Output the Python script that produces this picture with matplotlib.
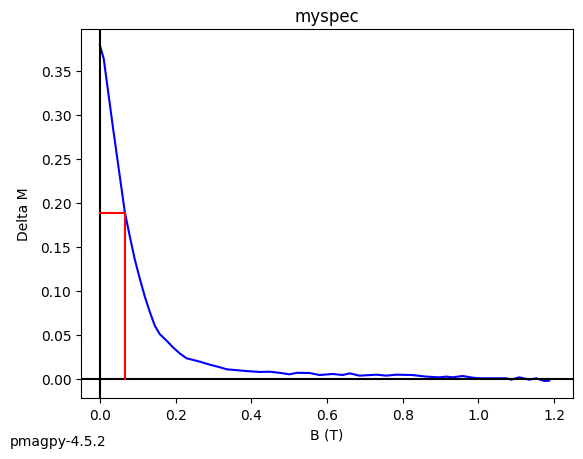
import matplotlib
matplotlib.use("Agg")
import matplotlib.pyplot as plt

field_T = [0.0, 0.01, 0.035, 0.066, 0.079, 0.092, 0.106, 0.119, 0.132, 0.145,
           0.158, 0.176, 0.193, 0.211, 0.229, 0.264, 0.29, 0.317, 0.335, 0.388,
           0.422, 0.449, 0.475, 0.501, 0.52, 0.554, 0.58, 0.615, 0.641, 0.66,
           0.686, 0.731, 0.757, 0.783, 0.826, 0.862, 0.897, 0.915, 0.932, 0.958,
           0.985, 1.003, 1.037, 1.074, 1.087, 1.108, 1.135, 1.153, 1.174, 1.187]
delta_m = [0.379, 0.364, 0.284, 0.189, 0.162, 0.136, 0.113, 0.093, 0.076, 0.0606,
           0.051, 0.0436, 0.036, 0.029, 0.0235, 0.0197, 0.0163, 0.0133, 0.011, 0.009,
           0.008, 0.0083, 0.007, 0.0053, 0.007, 0.0068, 0.0045, 0.0057, 0.0045, 0.0064,
           0.0038, 0.0049, 0.0038, 0.0049, 0.0045, 0.0027, 0.0019, 0.0027, 0.0019, 0.0034,
           0.0015, 0.0008, 0.0008, 0.0008, -0.0008, 0.0019, -0.0008, 0.0008, -0.0023, -0.0019]
half_field = 0.066
half_dm = 0.189

fig = plt.figure(figsize=(5.83, 4.6), dpi=100)
ax = fig.add_axes([81/583, 61/460, 492/583, 369/460])
ax.plot(field_T, delta_m, color='blue', lw=1.5)
ax.axhline(0, color='black', lw=1.5)
ax.axvline(0, color='black', lw=1.5)
ax.plot([0, half_field], [half_dm, half_dm], color='red', lw=1.5)
ax.plot([half_field, half_field], [0, half_dm], color='red', lw=1.5)
ax.set_xlim(-0.05, 1.25)
ax.set_ylim(-0.0216, 0.3977)
ax.set_xticks([0.0, 0.2, 0.4, 0.6, 0.8, 1.0, 1.2])
ax.set_yticks([0.0, 0.05, 0.10, 0.15, 0.20, 0.25, 0.30, 0.35])
ax.yaxis.set_major_formatter(matplotlib.ticker.FormatStrFormatter('%.2f'))
ax.set_title('myspec')
ax.set_xlabel('B (T)')
ax.set_ylabel('Delta M', labelpad=7)
fig.text(10/583, 18/460, 'pmagpy-4.5.2', ha='left', va='center', fontsize=10)
fig.savefig('out.png', dpi=100)
